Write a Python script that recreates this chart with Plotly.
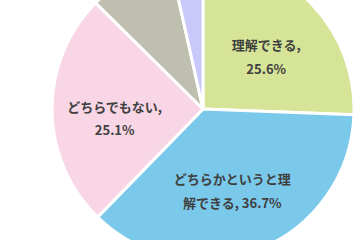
import plotly.graph_objects as go

categories = ["理解できる", "どちらかというと理解できる", "どちらでもない",
              "どちらかというと理解できない", "理解できない"]
values = [25.6, 36.7, 25.1, 9.1, 3.5]
display_names = ["理解できる,", "どちらかというと理<br>解できる,", "どちらでもない,", "", ""]
show_value = [True, True, True, False, False]
colors = ["#d6e497", "#7ac8ea", "#f8d6e5", "#bfbfb0", "#c8c8fa"]

texts = []
for name, v, s in zip(display_names, values, show_value):
    if not s:
        texts.append("")
        continue
    if "<br>" in name:
        t = f"{name} {v:.1f}%"
    else:
        t = f"{name}<br>{v:.1f}%"
    lines = t.split("<br>")
    body = "<br>".join(f"<span style='font-size:13px'>{ln}</span>" for ln in lines)
    texts.append("<span style='font-size:7px'>\u00a0</span><br>" + body)

W, H = 360, 302
cx, r = 203, 151
fig = go.Figure(go.Pie(
    labels=categories,
    values=values,
    text=texts,
    textinfo="text",
    textposition="inside",
    insidetextorientation="horizontal",
    sort=False,
    direction="clockwise",
    rotation=0,
    marker=dict(colors=colors, line=dict(color="white", width=3)),
    textfont=dict(family="Noto Sans CJK JP", size=18, color="#404040", weight="bold"),
    domain=dict(x=[(cx - r) / W, (cx + r) / W], y=[0, 1]),
    hoverinfo="label+percent",
))
fig.update_layout(
    width=W, height=H,
    margin=dict(l=0, r=0, t=0, b=0),
    paper_bgcolor="white", plot_bgcolor="white",
    showlegend=False,
)
post = ("var d=document.getElementById('{plot_id}');"
        "d.style.position='relative';d.style.top='-42px';"
        "document.documentElement.style.overflow='hidden';"
        "document.body.style.overflow='hidden';document.body.style.margin='0';")
fig.write_html("out.html", post_script=post)
